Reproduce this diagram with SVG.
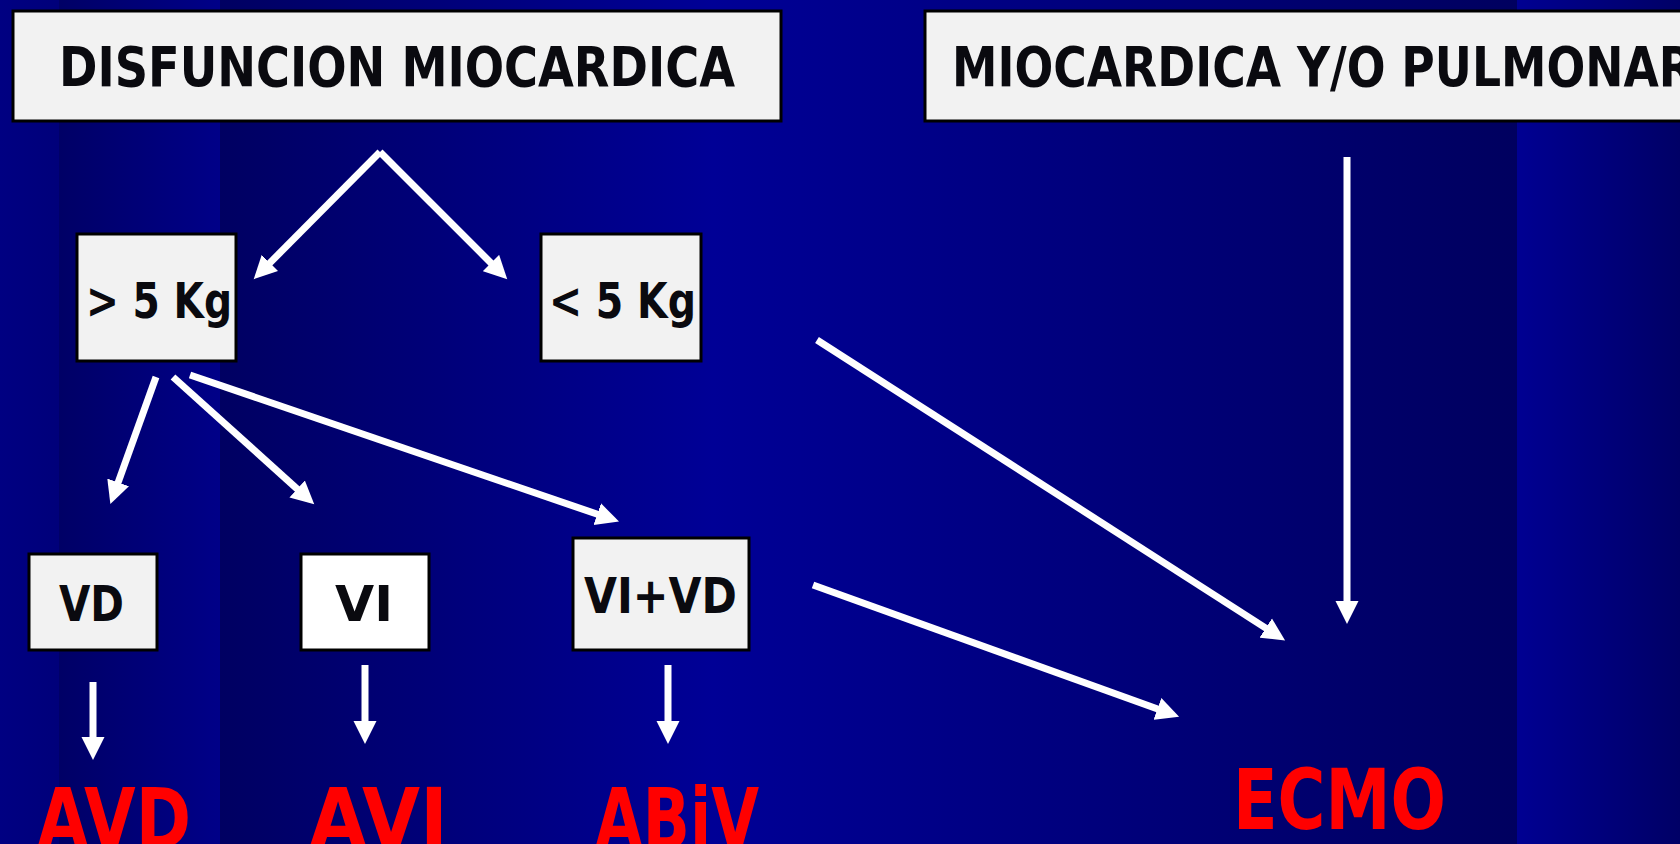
<svg xmlns="http://www.w3.org/2000/svg" width="1680" height="844" viewBox="0 0 1680 844">
  <defs>
    <linearGradient id="bgA" x1="0" y1="0" x2="1" y2="0">
      <stop offset="0" stop-color="#000082"/>
      <stop offset="1" stop-color="#00007a"/>
    </linearGradient>
    <linearGradient id="bgB" x1="0" y1="0" x2="1" y2="0">
      <stop offset="0" stop-color="#000066"/>
      <stop offset="1" stop-color="#000088"/>
    </linearGradient>
    <linearGradient id="bgC" x1="0" y1="0" x2="1" y2="0">
      <stop offset="0" stop-color="#000062"/>
      <stop offset="0.38" stop-color="#000096"/>
      <stop offset="1" stop-color="#00005f"/>
    </linearGradient>
    <linearGradient id="bgD" x1="0" y1="0" x2="1" y2="0">
      <stop offset="0" stop-color="#000092"/>
      <stop offset="1" stop-color="#000066"/>
    </linearGradient>
    <marker id="head" markerUnits="userSpaceOnUse" markerWidth="24" markerHeight="24"
            viewBox="0 -12 24 24" refX="1" refY="0" orient="auto">
      <path d="M0,-11.5 L23,0 L0,11.5 Z" fill="#ffffff"/>
    </marker>
    <style>
      .box { fill: #f2f2f2; stroke: #000000; stroke-width: 3; }
      .box.white { fill: #ffffff; }
      .lbl { font-family: "Comic Sans MS", "DejaVu Sans", sans-serif; font-weight: bold; fill: #0a0a0f; }
      .hdr { font-size: 56px; }
      .mid { font-size: 50px; }
      .out { font-family: "Comic Sans MS", "DejaVu Sans", sans-serif; font-weight: bold; fill: #ff0000; font-size: 84px; }
      .conn line { stroke: #ffffff; stroke-width: 7; marker-end: url(#head); }
    </style>
  </defs>

  <!-- background bands -->
  <rect x="0" y="0" width="59" height="844" fill="url(#bgA)"/>
  <rect x="59" y="0" width="161" height="844" fill="url(#bgB)"/>
  <rect x="220" y="0" width="1297" height="844" fill="url(#bgC)"/>
  <rect x="1517" y="0" width="163" height="844" fill="url(#bgD)"/>

  <!-- header boxes -->
  <g id="disfuncion">
    <rect class="box" x="13" y="11" width="768" height="110"/>
    <text class="lbl hdr" x="59" y="86" textLength="676" lengthAdjust="spacingAndGlyphs">DISFUNCION MIOCARDICA</text>
  </g>
  <g id="pulmonar">
    <rect class="box" x="925" y="11" width="800" height="110"/>
    <text class="lbl hdr" x="952" y="86" textLength="742" lengthAdjust="spacingAndGlyphs">MIOCARDICA Y/O PULMONAR</text>
  </g>

  <!-- weight boxes -->
  <g id="mayor5">
    <rect class="box" x="77" y="234" width="159" height="127"/>
    <text class="lbl mid" x="86" y="318" textLength="146" lengthAdjust="spacingAndGlyphs">&gt; 5 Kg</text>
  </g>
  <g id="menor5">
    <rect class="box" x="541" y="234" width="160" height="127"/>
    <text class="lbl mid" x="549" y="318" textLength="147" lengthAdjust="spacingAndGlyphs">&lt; 5 Kg</text>
  </g>

  <!-- ventricle boxes -->
  <g id="vd">
    <rect class="box" x="29" y="554" width="128" height="96"/>
    <text class="lbl mid" x="59" y="621" textLength="65" lengthAdjust="spacingAndGlyphs">VD</text>
  </g>
  <g id="vi">
    <rect class="box white" x="301" y="554" width="128" height="96"/>
    <text class="lbl mid" x="335" y="621" textLength="58" lengthAdjust="spacingAndGlyphs">VI</text>
  </g>
  <g id="vivd">
    <rect class="box" x="573" y="538" width="176" height="112"/>
    <text class="lbl mid" x="584" y="613" textLength="153" lengthAdjust="spacingAndGlyphs">VI+VD</text>
  </g>

  <!-- outcomes -->
  <g id="avd"><text class="out" x="37" y="848" textLength="154" lengthAdjust="spacingAndGlyphs">AVD</text></g>
  <g id="avi"><text class="out" x="309" y="848" textLength="139" lengthAdjust="spacingAndGlyphs">AVI</text></g>
  <g id="abiv"><text class="out" x="595" y="848" textLength="164" lengthAdjust="spacingAndGlyphs">ABiV</text></g>
  <g id="ecmo"><text class="out" x="1233" y="829" textLength="213" lengthAdjust="spacingAndGlyphs">ECMO</text></g>

  <!-- connectors -->
  <g id="connectors" class="conn">
    <line x1="380" y1="152" x2="269.2" y2="263.6"/>
    <line x1="380" y1="152" x2="491.7" y2="263.7"/>
    <line x1="156" y1="377" x2="117.8" y2="483.4"/>
    <line x1="173" y1="377" x2="297.9" y2="489.6"/>
    <line x1="190" y1="375" x2="598.2" y2="514.5"/>
    <line x1="817" y1="340" x2="1266.6" y2="628.6"/>
    <line x1="813" y1="585" x2="1158.4" y2="709.2"/>
    <line x1="1347" y1="157" x2="1347" y2="602"/>
    <line x1="93" y1="682" x2="93" y2="738"/>
    <line x1="365" y1="665" x2="365" y2="722"/>
    <line x1="668" y1="665" x2="668" y2="722"/>
  </g>
</svg>
